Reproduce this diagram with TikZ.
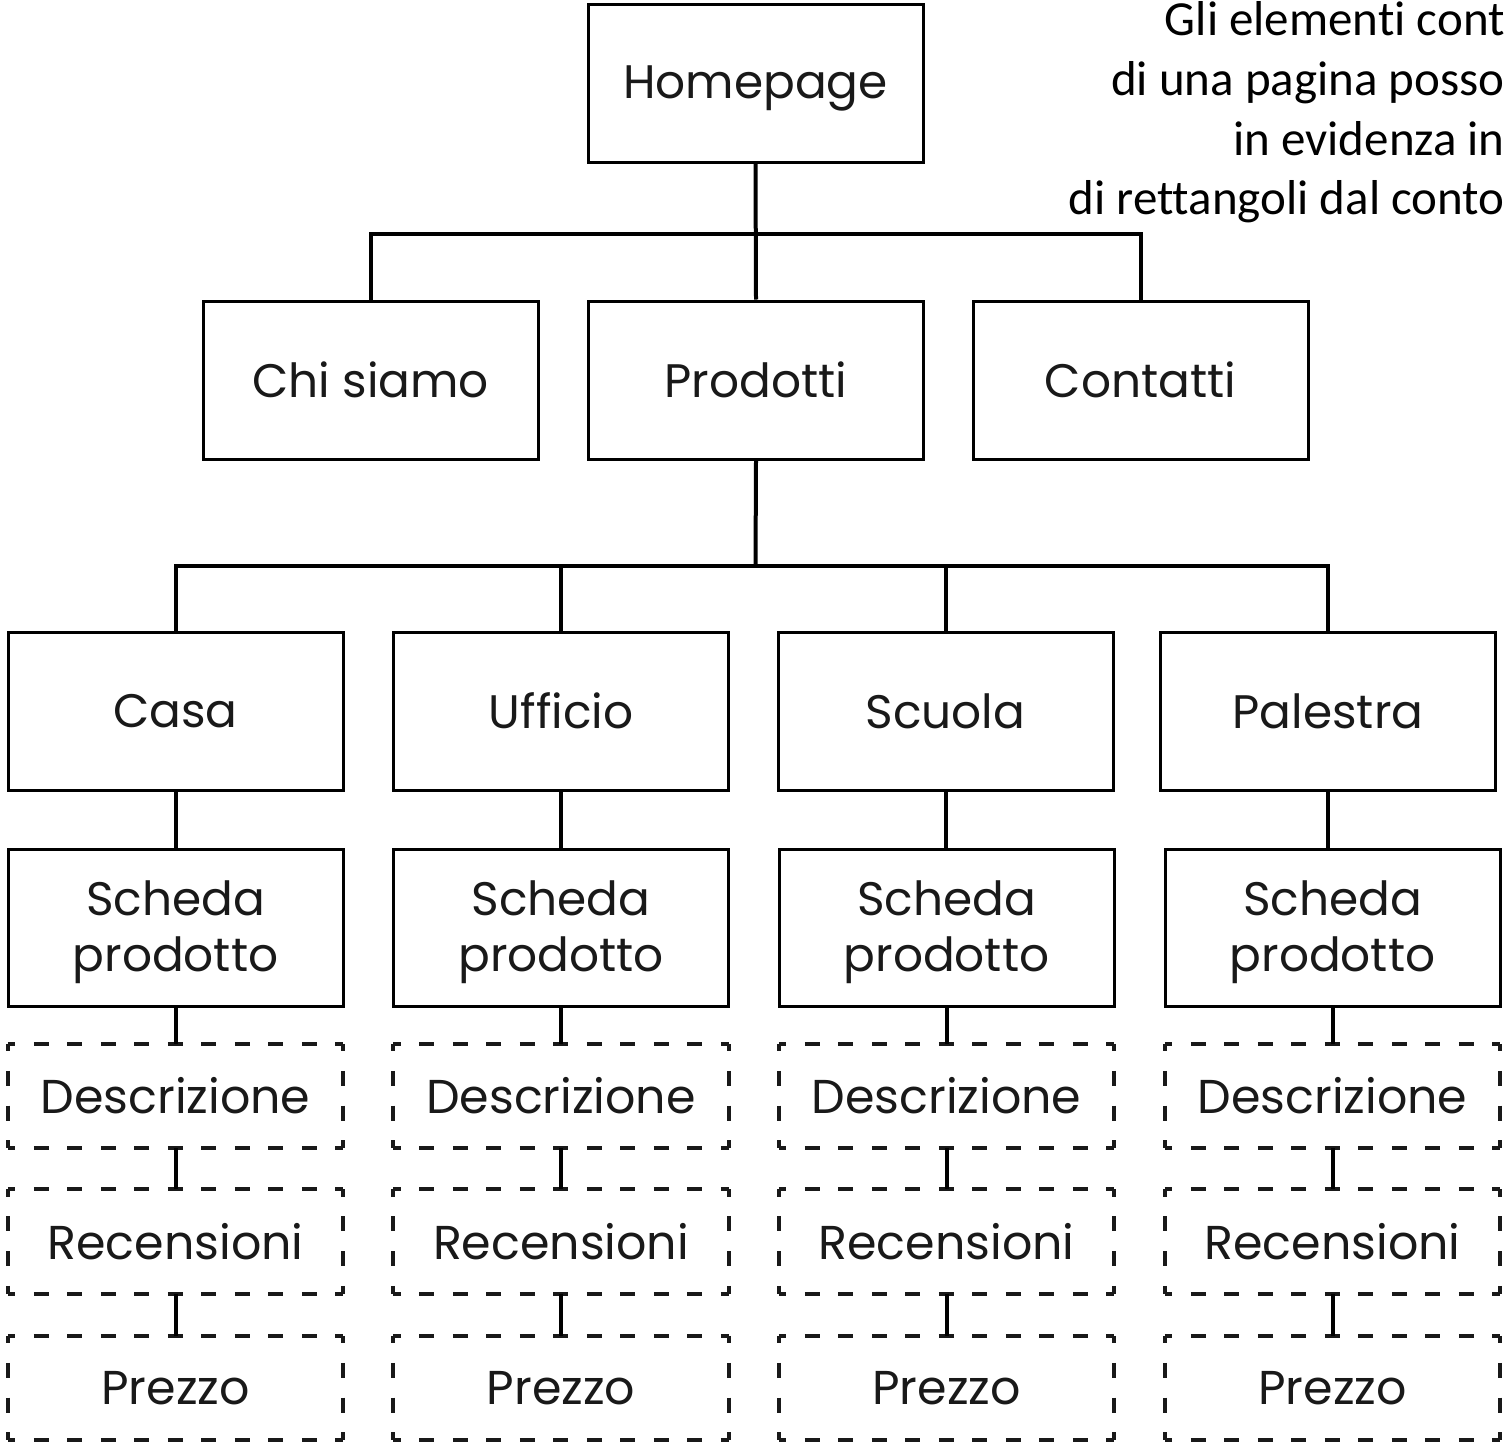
\documentclass[tikz,border=0pt]{standalone}
\usepackage{fontspec}
\newfontfamily\pop{Poppins}
\newfontfamily\carl[Ligatures=NoCommon]{Carlito}
\newcommand{\lowerby}[2]{\raisebox{0pt}[\dimexpr\height+#1\relax][\depth]{#2}}
\begin{document}
\begin{tikzpicture}[x=1pt,y=-1pt,
  solidbox/.style={draw=black, line width=3pt, minimum width=335pt, minimum height=158pt, inner sep=0pt, font=\pop\fontsize{47}{56}\selectfont, align=center, text=black!90},
  dbox/.style={minimum width=335pt, minimum height=104pt, inner sep=0pt, font=\pop\fontsize{47.5}{56}\selectfont, text=black!90},
  hside/.style={line width=4pt, black!90, dash pattern=on 15pt off 18.5pt, dash phase=7.5pt},
  vside/.style={line width=4pt, black!90, dash pattern=on 15pt off 19.67pt, dash phase=7.5pt},
  conn/.style={line width=4pt, black},
  note/.style={font=\carl\fontsize{49}{59}\selectfont, anchor=base east, inner sep=0pt}]
\useasboundingbox (0,0) rectangle (1506,1445);
\fill[white] (0,0) rectangle (1506,1445);
% level 0
\node[solidbox, minimum height=157pt] (home) at (755.5,83.5) {\lowerby{10pt}{Homepage}};
% level 1
\node[solidbox] (chi) at (370.5,380) {Chi siamo};
\node[solidbox] (prod) at (756,380) {Prodotti};
\node[solidbox] (cont) at (1140.5,380) {Contatti};
% level 2
\node[solidbox] (casa) at (175.5,711) {Casa};
\node[solidbox] (uff) at (561,711) {Ufficio};
\node[solidbox] (scu) at (945.5,711) {Scuola};
\node[solidbox] (pal) at (1328,711) {Palestra};
% scheda and dashed elements
\foreach \n/\x in {s1/175.5, s2/561, s3/946.5, s4/1332.5}{
  \node[solidbox, minimum height=157pt] (\n) at (\x,927.5) {\lowerby{10pt}{\begin{tabular}{@{}c@{}}Scheda\\prodotto\end{tabular}}};
  \node[dbox] (\n d) at (\x,1096) {Descrizione};
  \node[dbox] (\n r) at (\x,1241.5) {Recensioni};
  \node[dbox] (\n p) at (\x,1388) {Prezzo};
  \foreach \m in {d,r,p}{
    \draw[hside] (\n\m.north west) -- (\n\m.north east);
    \draw[hside] (\n\m.south west) -- (\n\m.south east);
    \draw[vside] (\n\m.north west) -- (\n\m.south west);
    \draw[vside] (\n\m.north east) -- (\n\m.south east);
  }
}
% connectors
\coordinate (b1) at (755.5,234);
\coordinate (b2) at (755.5,566);
\draw[conn] (home.south) -- (prod.north);
\draw[conn] (chi.north) |- (b1) -| (cont.north);
\draw[conn] (prod.south) -- (b2);
\draw[conn] (casa.north) |- (b2) -| (pal.north);
\draw[conn] (uff.north) -- (uff.north |- b2);
\draw[conn] (scu.north) -- (scu.north |- b2);
\draw[conn] (casa.south) -- (casa.south |- s1.north);
\draw[conn] (uff.south) -- (uff.south |- s2.north);
\draw[conn] (scu.south) -- (scu.south |- s3.north);
\draw[conn] (pal.south) -- (pal.south |- s4.north);
\foreach \n in {s1,s2,s3,s4}{
  \draw[conn] (\n.south) -- (\n d.north);
  \draw[conn] (\n d.south) -- (\n r.north);
  \draw[conn] (\n r.south) -- (\n p.north);
}
% note
\node[note] (n1) at (1505,36) {Gli elementi cont};
\node[note] (n2) at (1505,95) {di una pagina posso};
\node[note] (n3) at (1505,155) {in evidenza in};
\node[note] (n4) at (1505,214) {di rettangoli dal conto};
\end{tikzpicture}
\end{document}
